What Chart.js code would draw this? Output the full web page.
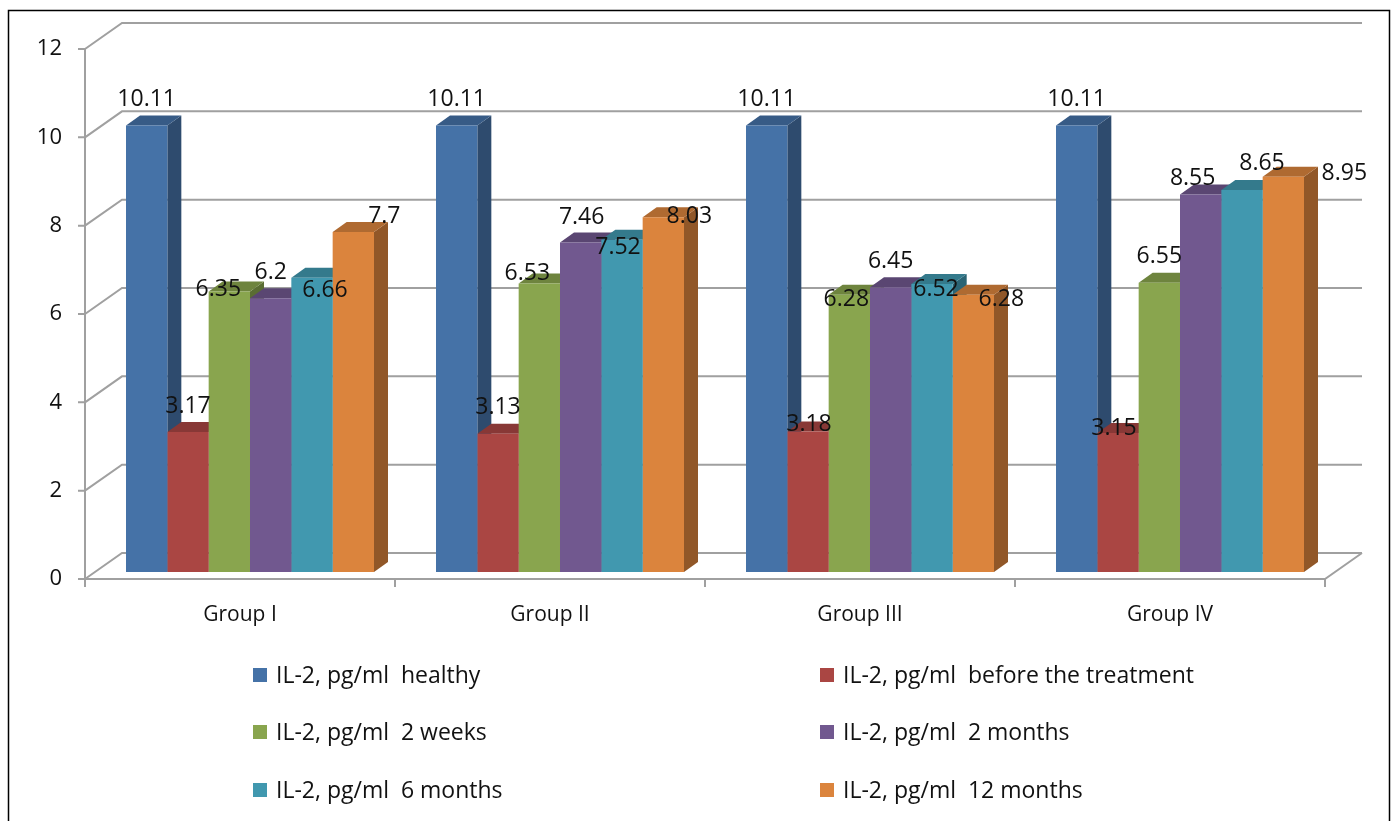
<!DOCTYPE html>
<html>
<head>
<meta charset="utf-8">
<title>IL-2 levels by group</title>
<script src="https://cdn.jsdelivr.net/npm/chart.js@4.4.1/dist/chart.umd.min.js"></script>
<style>
  html, body { margin: 0; padding: 0; background: #ffffff; }
  #wrap { position: relative; width: 1398px; height: 821px; }
  canvas { display: block; }
</style>
</head>
<body>
<div id="wrap"><canvas id="chart" width="1398" height="821"></canvas></div>
<script>
// ---- data ----
const categories = ['Group I', 'Group II', 'Group III', 'Group IV'];
const healthy = [10.11, 10.11, 10.11, 10.11];
const beforeTreatment = [3.17, 3.13, 3.18, 3.15];
const weeks2 = [6.35, 6.53, 6.28, 6.55];
const months2 = [6.2, 7.46, 6.45, 8.55];
const months6 = [6.66, 7.52, 6.52, 8.65];
const months12 = [7.7, 8.03, 6.28, 8.95];
const yTicks = [0, 2, 4, 6, 8, 10, 12];

const seriesLabels = [
  'IL-2, pg/ml  healthy',
  'IL-2, pg/ml  before the treatment',
  'IL-2, pg/ml  2 weeks',
  'IL-2, pg/ml  2 months',
  'IL-2, pg/ml  6 months',
  'IL-2, pg/ml  12 months'
];
const seriesValues = [healthy, beforeTreatment, weeks2, months2, months6, months12];
const seriesColors = ['#4572A7', '#AA4643', '#89A54E', '#71588F', '#4198AF', '#DB843D'];

// ---- 3D look ----
const FONT = '"Open Sans", Lato, "Liberation Sans", sans-serif';
const GRID = '#a0a0a0';
const WALL = { dx: 37, dy: -26 };   // front axis plane -> back wall
const FRONT = { dx: 10, dy: -7 };   // front axis plane -> bar front faces
const DEPTH = { dx: 14, dy: -10 };  // bar thickness

// label nudges [series][group], px, relative to a spot centred above the bar
const labelNudge = [
  [[0, 0], [0, 0], [0, 0], [0, 0]],
  [[0, 0], [0, 0], [1, 19], [-4, 22]],
  [[-11, 24], [-12, 16], [-3, 31], [0, 0]],
  [[0, 0], [1, 1], [0, 0], [-8, 10]],
  [[13, 39], [-4, 34], [4, 31], [20, -1]],
  [[31, 11], [26, 25], [28, 31], [61, 23]]
];

function shade(hex, f) {
  const n = parseInt(hex.slice(1), 16);
  const r = Math.round(((n >> 16) & 255) * f);
  const g = Math.round(((n >> 8) & 255) * f);
  const b = Math.round((n & 255) * f);
  return `rgb(${r},${g},${b})`;
}

// Walls, floor and gridlines in perspective, drawn behind the bars
const wallPlugin = {
  id: 'wall3d',
  beforeDatasetsDraw(chart) {
    const { ctx, chartArea: a, scales: { x, y } } = chart;
    ctx.save();
    ctx.strokeStyle = GRID;
    ctx.lineWidth = 2;
    ctx.lineCap = 'butt';
    ctx.beginPath();
    yTicks.forEach(v => {
      const py = y.getPixelForValue(v);
      ctx.moveTo(a.left, py);
      ctx.lineTo(a.left + WALL.dx, py + WALL.dy);
      ctx.lineTo(a.right + WALL.dx, py + WALL.dy);
      ctx.moveTo(a.left - 7, py);
      ctx.lineTo(a.left, py);
    });
    const y0 = y.getPixelForValue(0);
    const yTop = y.getPixelForValue(12);
    // floor front edge and right edge
    ctx.moveTo(a.left, y0);
    ctx.lineTo(a.right, y0);
    ctx.lineTo(a.right + WALL.dx, y0 + WALL.dy);
    // front vertical axis
    ctx.moveTo(a.left, yTop);
    ctx.lineTo(a.left, y0 + 8);
    // category separators
    for (let i = 0; i <= categories.length; i++) {
      const px = a.left + (a.right - a.left) * i / categories.length;
      ctx.moveTo(px, y0);
      ctx.lineTo(px, y0 + 8);
    }
    ctx.stroke();

    // side and top faces of every bar (fronts are drawn by the library afterwards)
    chart.data.datasets.forEach((ds, di) => {
      const meta = chart.getDatasetMeta(di);
      meta.data.forEach(el => {
        const { x: cx, y: top, base, width } = el.getProps(['x', 'y', 'base', 'width'], true);
        const l = cx - width / 2 + FRONT.dx;
        const r = cx + width / 2 + FRONT.dx;
        const t = top + FRONT.dy;
        const b = base + FRONT.dy;
        ctx.fillStyle = shade(ds.backgroundColor, 0.66);
        ctx.beginPath();
        ctx.moveTo(r, t);
        ctx.lineTo(r + DEPTH.dx, t + DEPTH.dy);
        ctx.lineTo(r + DEPTH.dx, b + DEPTH.dy);
        ctx.lineTo(r, b);
        ctx.closePath();
        ctx.fill();
        ctx.fillStyle = shade(ds.backgroundColor, 0.8);
        ctx.beginPath();
        ctx.moveTo(l, t);
        ctx.lineTo(l + DEPTH.dx, t + DEPTH.dy);
        ctx.lineTo(r + DEPTH.dx, t + DEPTH.dy);
        ctx.lineTo(r, t);
        ctx.closePath();
        ctx.fill();
      });
    });
    ctx.restore();
    // shift the library-drawn fronts into the bar plane
    ctx.save();
    ctx.translate(FRONT.dx, FRONT.dy);
  },
  afterDatasetsDraw(chart) {
    const { ctx } = chart;
    ctx.restore();
    // value labels
    ctx.save();
    ctx.font = `23px ${FONT}`;
    ctx.fillStyle = '#111111';
    ctx.textAlign = 'center';
    ctx.textBaseline = 'middle';
    chart.data.datasets.forEach((ds, di) => {
      const meta = chart.getDatasetMeta(di);
      meta.data.forEach((el, gi) => {
        const { x: cx, y: top } = el.getProps(['x', 'y'], true);
        const n = labelNudge[di][gi];
        ctx.fillText(String(ds.data[gi]), cx + FRONT.dx + n[0], top + FRONT.dy - 26 + n[1]);
      });
    });
    ctx.restore();
  },
  afterDraw(chart) {
    const { ctx } = chart;
    ctx.save();
    // legend in two columns
    const cols = [253, 820];
    const rows = [675, 732, 790];
    ctx.font = `23px ${FONT}`;
    ctx.textBaseline = 'middle';
    ctx.textAlign = 'left';
    chart.data.datasets.forEach((ds, i) => {
      const bx = cols[i % 2];
      const by = rows[Math.floor(i / 2)];
      ctx.fillStyle = ds.backgroundColor;
      ctx.fillRect(bx, by - 7, 14, 14);
      ctx.fillStyle = '#111111';
      ctx.fillText(ds.label, bx + 23, by + 1);
    });
    // outer frame
    ctx.strokeStyle = '#000000';
    ctx.lineWidth = 1.5;
    ctx.strokeRect(8.5, 10.5, 1381, 830);
    ctx.restore();
  }
};

new Chart(document.getElementById('chart'), {
  type: 'bar',
  data: {
    labels: categories,
    datasets: seriesValues.map((vals, i) => ({
      label: seriesLabels[i],
      data: vals,
      backgroundColor: seriesColors[i],
      borderWidth: 0,
      categoryPercentage: 0.8,
      barPercentage: 1.0
    }))
  },
  options: {
    responsive: false,
    maintainAspectRatio: false,
    animation: false,
    layout: { padding: { top: 49, right: 73, left: 0, bottom: 0 } },
    plugins: {
      legend: { display: false },
      tooltip: { enabled: false },
      title: { display: false }
    },
    scales: {
      x: {
        grid: { display: false, drawTicks: false },
        border: { display: false },
        ticks: { color: '#111111', font: { family: FONT, size: 21 }, padding: 23 },
        afterFit(s) { s.height = 242; }
      },
      y: {
        min: 0,
        max: 12,
        grid: { display: false, drawTicks: false },
        border: { display: false },
        ticks: { stepSize: 2, color: '#111111', font: { family: FONT, size: 22 }, padding: 23 },
        afterFit(s) { s.width = 85; }
      }
    }
  },
  plugins: [wallPlugin]
});
</script>
</body>
</html>
